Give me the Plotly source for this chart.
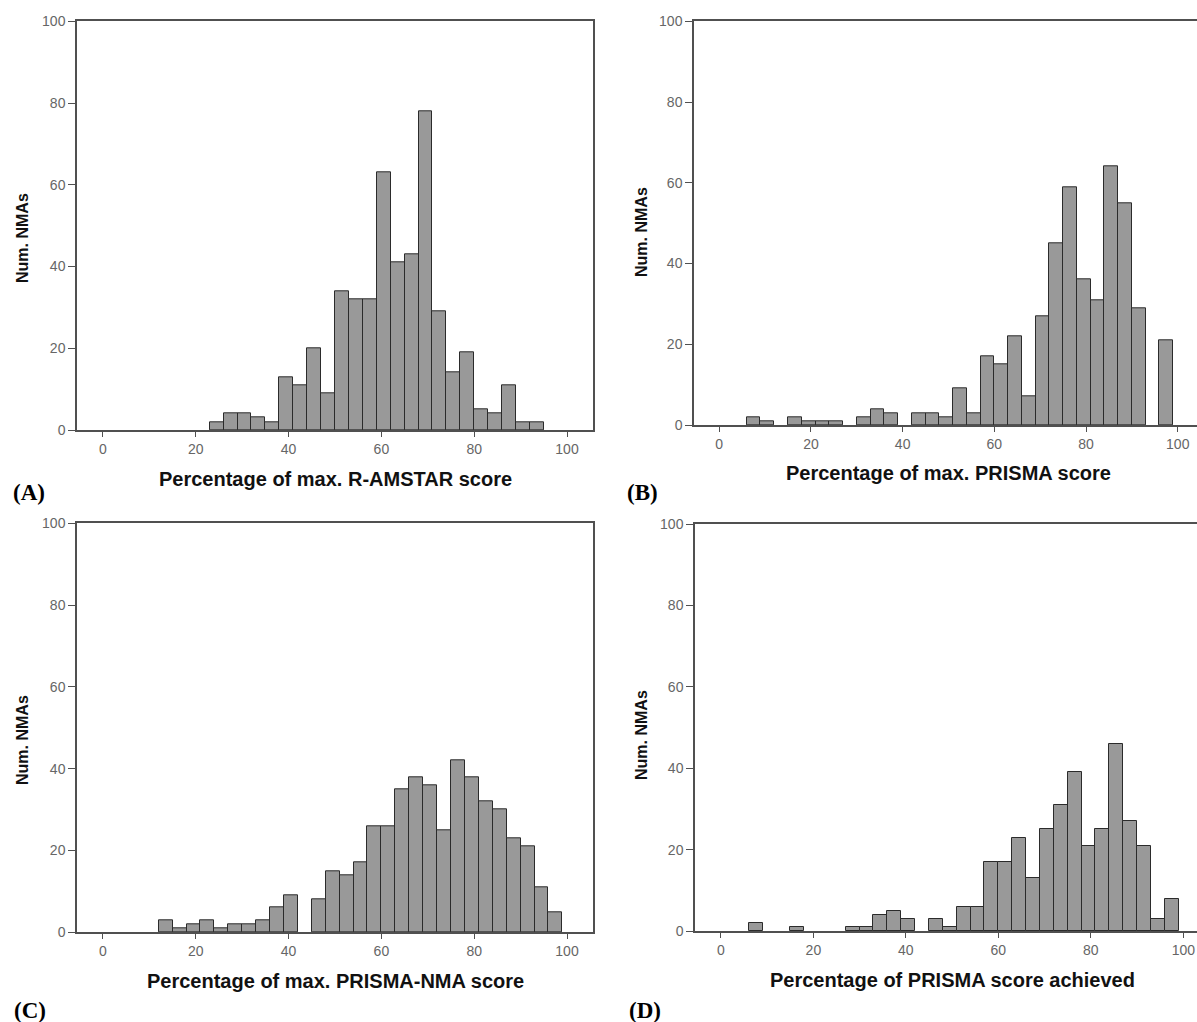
import plotly.graph_objects as go

# ---------------- data ----------------
# Panel A: R-AMSTAR (bin lower edges, width 3)
a_bins = [23, 26, 29, 32, 35, 38, 41, 44, 47, 50, 53, 56, 59, 62, 65, 68, 71, 74, 77, 80, 83, 86, 89, 92]
a_counts = [2, 4, 4, 3, 2, 13, 11, 20, 9, 34, 32, 32, 63, 41, 43, 78, 29, 14, 19, 5, 4, 11, 2, 2]

# Panel B: PRISMA
b_bins = [6, 9, 12, 15, 18, 21, 24, 27, 30, 33, 36, 39, 42, 45, 48, 51, 54, 57, 60, 63, 66, 69, 72, 75,
          78, 81, 84, 87, 90, 93, 96]
b_counts = [2, 1, 0, 2, 1, 1, 1, 0, 2, 4, 3, 0, 3, 3, 2, 9, 3, 17, 15, 22, 7, 27, 45, 59,
            36, 31, 64, 55, 29, 0, 21]

# Panel C: PRISMA-NMA
c_bins = [12, 15, 18, 21, 24, 27, 30, 33, 36, 39, 42, 45, 48, 51, 54, 57, 60, 63, 66, 69, 72, 75,
          78, 81, 84, 87, 90, 93, 96]
c_counts = [3, 1, 2, 3, 1, 2, 2, 3, 6, 9, 0, 8, 15, 14, 17, 26, 26, 35, 38, 36, 25, 42,
            38, 32, 30, 23, 21, 11, 5]

# Panel D: PRISMA score achieved
d_bins = [6, 9, 12, 15, 18, 21, 24, 27, 30, 33, 36, 39, 42, 45, 48, 51, 54, 57, 60, 63, 66, 69, 72, 75,
          78, 81, 84, 87, 90, 93, 96]
d_counts = [2, 0, 0, 1, 0, 0, 0, 1, 1, 4, 5, 3, 0, 3, 1, 6, 6, 17, 17, 23, 13, 25, 31, 39,
            21, 25, 46, 27, 21, 3, 8]

bin_width = 3
x_ticks = [0, 20, 40, 60, 80, 100]
y_ticks = [0, 20, 40, 60, 80, 100]

x_titles = ["Percentage of max. R-AMSTAR score", "Percentage of max. PRISMA score",
            "Percentage of max. PRISMA-NMA score", "Percentage of PRISMA score achieved"]
panel_labels = ["(A)", "(B)", "(C)", "(D)"]
y_title = "Num. NMAs"

# ---------------- layout helpers ----------------
W, H = 1197, 1022


def px(x):
    return x / W


def py(y):
    return 1 - y / H


# pixel boxes: (left, right, top, bottom)
boxes = [(77, 593, 21.3, 430), (694, 1197, 21.3, 425), (77, 593, 523.3, 932.3), (695, 1197, 524, 931.3)]
x_ranges = [[-5.6, 105.6], [-5.5, 104.2], [-5.6, 105.6], [-5.6, 102.96]]
mirror_right = [True, False, True, False]

fig = go.Figure()

data = [(a_bins, a_counts), (b_bins, b_counts), (c_bins, c_counts), (d_bins, d_counts)]
for i, (bins, counts) in enumerate(data):
    n = i + 1
    xs = [b for b, c in zip(bins, counts) if c > 0]
    ys = [c for c in counts if c > 0]
    fig.add_trace(go.Bar(
        x=xs, y=ys, width=bin_width, offset=0,
        marker=dict(color="#999999", line=dict(color="#2b2b2b", width=1)),
        xaxis="x" if n == 1 else f"x{n}", yaxis="y" if n == 1 else f"y{n}",
        showlegend=False, hoverinfo="skip",
    ))

axis_font = dict(family="Liberation Sans, Arial, sans-serif", size=14, color="#666666")
line_col = "#505050"
for i in range(4):
    n = i + 1
    l, r, t, b = boxes[i]
    xa = dict(domain=[px(l), min(1.0, px(r))], range=x_ranges[i], anchor="y" if n == 1 else f"y{n}",
              tickvals=x_ticks, ticks="outside", ticklen=5, tickcolor=line_col, tickwidth=1,
              showline=True, linecolor=line_col, linewidth=1.5, mirror=True,
              showgrid=False, zeroline=False, tickfont=axis_font, automargin=False, fixedrange=True)
    ya = dict(domain=[py(b), py(t)], range=[0, 100], anchor="x" if n == 1 else f"x{n}",
              tickvals=y_ticks, ticks="outside", ticklen=7, tickcolor=line_col, tickwidth=1,
              showline=True, linecolor=line_col, linewidth=1.5, mirror=mirror_right[i],
              showgrid=False, zeroline=False, tickfont=axis_font, automargin=False, fixedrange=True)
    fig.layout["xaxis" if n == 1 else f"xaxis{n}"] = xa
    fig.layout["yaxis" if n == 1 else f"yaxis{n}"] = ya

annotations = []
xtitle_font = dict(family="Liberation Sans, Arial, sans-serif", size=20, color="#111111")
ytitle_font = dict(family="Liberation Sans, Arial, sans-serif", size=16, color="#111111")
# x-axis titles (center x, center y)
xt_pos = [(335, 479), (948, 473), (335, 981), (952, 980)]
for (cx, cy), txt in zip(xt_pos, x_titles):
    annotations.append(dict(text=f"<b>{txt}</b>", x=px(cx), y=py(cy), xref="paper", yref="paper",
                            showarrow=False, font=xtitle_font, xanchor="center", yanchor="middle"))
# y-axis titles
yt_pos = [(22, 238), (641, 232), (22, 740), (641, 735)]
for (cx, cy) in yt_pos:
    annotations.append(dict(text=f"<b>{y_title}</b>", x=px(cx), y=py(cy), xref="paper", yref="paper",
                            showarrow=False, font=ytitle_font, textangle=-90,
                            xanchor="center", yanchor="middle"))
# panel labels
pl_pos = [(11, 492), (625, 492), (12, 1010), (627, 1010)]
for (lx, ly), txt in zip(pl_pos, panel_labels):
    annotations.append(dict(text=f"<b>{txt}</b>", x=px(lx), y=py(ly), xref="paper", yref="paper",
                            showarrow=False, xanchor="left", yanchor="middle",
                            font=dict(family="Liberation Serif, Times New Roman, serif", size=23,
                                      color="#000000")))

fig.update_layout(
    width=W, height=H, margin=dict(l=0, r=0, t=0, b=0),
    paper_bgcolor="white", plot_bgcolor="white",
    bargap=0, annotations=annotations, showlegend=False,
)

fig.write_html("out.html", config={"displayModeBar": False},
               post_script="document.body.style.margin='0';document.body.style.overflow='hidden';")
